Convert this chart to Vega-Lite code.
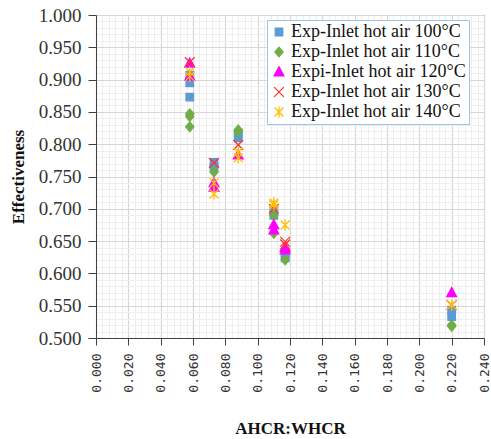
{
  "$schema": "https://vega.github.io/schema/vega-lite/v6.json",
  "width": 388,
  "height": 323,
  "autosize": {"type": "none"},
  "padding": {"left": 96, "top": 15, "right": 7, "bottom": 101},
  "background": "white",
  "config": {
    "font": "Liberation Serif",
    "view": {"stroke": "#404040", "strokeWidth": 1},
    "axis": {"domainColor": "#404040", "tickColor": "#404040", "labelColor": "#333333", "titleColor": "#111111", "labelFont": "Liberation Serif", "titleFont": "Liberation Serif"},
    "legend": {"labelFont": "Liberation Serif"}
  },
  "data": {
    "values": [
      {"x": 0.058, "y": 0.907, "series": "Exp-Inlet hot air 100°C"},
      {"x": 0.058, "y": 0.895, "series": "Exp-Inlet hot air 100°C"},
      {"x": 0.058, "y": 0.873, "series": "Exp-Inlet hot air 100°C"},
      {"x": 0.073, "y": 0.772, "series": "Exp-Inlet hot air 100°C"},
      {"x": 0.073, "y": 0.765, "series": "Exp-Inlet hot air 100°C"},
      {"x": 0.088, "y": 0.817, "series": "Exp-Inlet hot air 100°C"},
      {"x": 0.088, "y": 0.810, "series": "Exp-Inlet hot air 100°C"},
      {"x": 0.110, "y": 0.698, "series": "Exp-Inlet hot air 100°C"},
      {"x": 0.110, "y": 0.690, "series": "Exp-Inlet hot air 100°C"},
      {"x": 0.117, "y": 0.630, "series": "Exp-Inlet hot air 100°C"},
      {"x": 0.117, "y": 0.624, "series": "Exp-Inlet hot air 100°C"},
      {"x": 0.220, "y": 0.543, "series": "Exp-Inlet hot air 100°C"},
      {"x": 0.220, "y": 0.533, "series": "Exp-Inlet hot air 100°C"},
      {"x": 0.058, "y": 0.847, "series": "Exp-Inlet hot air 110°C"},
      {"x": 0.058, "y": 0.843, "series": "Exp-Inlet hot air 110°C"},
      {"x": 0.058, "y": 0.827, "series": "Exp-Inlet hot air 110°C"},
      {"x": 0.073, "y": 0.757, "series": "Exp-Inlet hot air 110°C"},
      {"x": 0.088, "y": 0.822, "series": "Exp-Inlet hot air 110°C"},
      {"x": 0.088, "y": 0.819, "series": "Exp-Inlet hot air 110°C"},
      {"x": 0.110, "y": 0.690, "series": "Exp-Inlet hot air 110°C"},
      {"x": 0.110, "y": 0.662, "series": "Exp-Inlet hot air 110°C"},
      {"x": 0.117, "y": 0.621, "series": "Exp-Inlet hot air 110°C"},
      {"x": 0.220, "y": 0.520, "series": "Exp-Inlet hot air 110°C"},
      {"x": 0.220, "y": 0.518, "series": "Exp-Inlet hot air 110°C"},
      {"x": 0.058, "y": 0.925, "series": "Expi-Inlet hot air 120°C"},
      {"x": 0.058, "y": 0.905, "series": "Expi-Inlet hot air 120°C"},
      {"x": 0.073, "y": 0.740, "series": "Expi-Inlet hot air 120°C"},
      {"x": 0.073, "y": 0.733, "series": "Expi-Inlet hot air 120°C"},
      {"x": 0.088, "y": 0.783, "series": "Expi-Inlet hot air 120°C"},
      {"x": 0.110, "y": 0.675, "series": "Expi-Inlet hot air 120°C"},
      {"x": 0.110, "y": 0.667, "series": "Expi-Inlet hot air 120°C"},
      {"x": 0.117, "y": 0.640, "series": "Expi-Inlet hot air 120°C"},
      {"x": 0.117, "y": 0.636, "series": "Expi-Inlet hot air 120°C"},
      {"x": 0.220, "y": 0.570, "series": "Expi-Inlet hot air 120°C"},
      {"x": 0.058, "y": 0.927, "series": "Exp-Inlet hot air 130°C"},
      {"x": 0.073, "y": 0.771, "series": "Exp-Inlet hot air 130°C"},
      {"x": 0.088, "y": 0.799, "series": "Exp-Inlet hot air 130°C"},
      {"x": 0.110, "y": 0.700, "series": "Exp-Inlet hot air 130°C"},
      {"x": 0.117, "y": 0.649, "series": "Exp-Inlet hot air 130°C"},
      {"x": 0.117, "y": 0.645, "series": "Exp-Inlet hot air 130°C"},
      {"x": 0.220, "y": 0.551, "series": "Exp-Inlet hot air 130°C"},
      {"x": 0.058, "y": 0.912, "series": "Exp-Inlet hot air 140°C"},
      {"x": 0.058, "y": 0.905, "series": "Exp-Inlet hot air 140°C"},
      {"x": 0.073, "y": 0.740, "series": "Exp-Inlet hot air 140°C"},
      {"x": 0.073, "y": 0.723, "series": "Exp-Inlet hot air 140°C"},
      {"x": 0.088, "y": 0.788, "series": "Exp-Inlet hot air 140°C"},
      {"x": 0.088, "y": 0.779, "series": "Exp-Inlet hot air 140°C"},
      {"x": 0.110, "y": 0.709, "series": "Exp-Inlet hot air 140°C"},
      {"x": 0.110, "y": 0.706, "series": "Exp-Inlet hot air 140°C"},
      {"x": 0.117, "y": 0.675, "series": "Exp-Inlet hot air 140°C"},
      {"x": 0.220, "y": 0.551, "series": "Exp-Inlet hot air 140°C"}
    ]
  },
  "mark": {"type": "point", "filled": true, "size": 56, "strokeWidth": 1.3, "opacity": 1},
  "encoding": {
    "x": {
      "field": "x", "type": "quantitative",
      "scale": {"domain": [0, 0.24], "nice": false, "zero": false},
      "axis": {
        "title": "AHCR:WHCR",
        "titleFont": "Liberation Serif", "titleFontSize": 17, "titleFontWeight": "bold", "titlePadding": 28,
        "values": [0,0.004,0.008,0.012,0.016,0.02,0.024,0.028,0.032,0.036,0.04,0.044,0.048,0.052,0.056,0.06,0.064,0.068,0.072,0.076,0.08,0.084,0.088,0.092,0.096,0.1,0.104,0.108,0.112,0.116,0.12,0.124,0.128,0.132,0.136,0.14,0.144,0.148,0.152,0.156,0.16,0.164,0.168,0.172,0.176,0.18,0.184,0.188,0.192,0.196,0.2,0.204,0.208,0.212,0.216,0.22,0.224,0.228,0.232,0.236,0.24],
        "labelExpr": "round(datum.value*1000) % 20 == 0 ? format(datum.value, '.3f') : ''",
        "labelAngle": 270, "labelFont": "DejaVu Sans Mono", "labelFontSize": 13, "labelPadding": 8,
        "labelOverlap": false,
        "tickSize": 7,
        "tickOpacity": {"condition": {"test": "round(datum.value*1000) % 20 == 0", "value": 1}, "value": 0},
        "grid": true,
        "gridColor": {"condition": {"test": "round(datum.value*1000) % 20 == 0", "value": "#d6d6d6"}, "value": "#eeeeee"},
        "gridWidth": {"condition": {"test": "round(datum.value*1000) % 20 == 0", "value": 1.2}, "value": 1}
      }
    },
    "y": {
      "field": "y", "type": "quantitative",
      "scale": {"domain": [0.5, 1.0], "nice": false, "zero": false},
      "axis": {
        "title": "Effectiveness",
        "titleFont": "Liberation Serif", "titleFontSize": 17, "titleFontWeight": "bold", "titlePadding": 11,
        "values": [0.5,0.51,0.52,0.53,0.54,0.55,0.56,0.57,0.58,0.59,0.6,0.61,0.62,0.63,0.64,0.65,0.66,0.67,0.68,0.69,0.7,0.71,0.72,0.73,0.74,0.75,0.76,0.77,0.78,0.79,0.8,0.81,0.82,0.83,0.84,0.85,0.86,0.87,0.88,0.89,0.9,0.91,0.92,0.93,0.94,0.95,0.96,0.97,0.98,0.99,1.0],
        "labelExpr": "round(datum.value*100) % 5 == 0 ? format(datum.value, '.3f') : ''",
        "labelFont": "Liberation Serif", "labelFontSize": 19, "labelPadding": 7,
        "labelOverlap": false,
        "tickSize": 8,
        "tickOpacity": {"condition": {"test": "round(datum.value*100) % 5 == 0", "value": 1}, "value": 0},
        "grid": true,
        "gridColor": {"condition": {"test": "round(datum.value*100) % 5 == 0", "value": "#d6d6d6"}, "value": "#eeeeee"},
        "gridWidth": {"condition": {"test": "round(datum.value*100) % 5 == 0", "value": 1.2}, "value": 1}
      }
    },
    "color": {
      "field": "series", "type": "nominal",
      "sort": ["Exp-Inlet hot air 100°C", "Exp-Inlet hot air 110°C", "Expi-Inlet hot air 120°C", "Exp-Inlet hot air 130°C", "Exp-Inlet hot air 140°C"],
      "scale": {
        "domain": ["Exp-Inlet hot air 100°C", "Exp-Inlet hot air 110°C", "Expi-Inlet hot air 120°C", "Exp-Inlet hot air 130°C", "Exp-Inlet hot air 140°C"],
        "range": ["#5B9BD5", "#70AD47", "#FF00FF", "#FF3030", "#FFC000"]
      },
      "legend": {
        "title": null, "orient": "none", "legendX": 171, "legendY": 5,
        "labelFont": "Liberation Serif", "labelFontSize": 18, "labelColor": "#111111", "labelLimit": 400,
        "labelOffset": 3,
        "symbolSize": 56, "symbolStrokeWidth": 1.3,
        "rowPadding": 2, "padding": 3,
        "strokeColor": "#9DC3E6", "fillColor": "white"
      }
    },
    "stroke": {
      "field": "series", "type": "nominal",
      "scale": {
        "domain": ["Exp-Inlet hot air 100°C", "Exp-Inlet hot air 110°C", "Expi-Inlet hot air 120°C", "Exp-Inlet hot air 130°C", "Exp-Inlet hot air 140°C"],
        "range": ["#5B9BD5", "#70AD47", "#FF00FF", "#FF3030", "#FFC000"]
      }
    },
    "shape": {
      "field": "series", "type": "nominal",
      "scale": {
        "domain": ["Exp-Inlet hot air 100°C", "Exp-Inlet hot air 110°C", "Expi-Inlet hot air 120°C", "Exp-Inlet hot air 130°C", "Exp-Inlet hot air 140°C"],
        "range": ["square", "M0,-1.3L1.1,0L0,1.3L-1.1,0Z", "M0,-1.4L1.3,1L-1.3,1Z", "M-1.3,-1.3L1.3,1.3M-1.3,1.3L1.3,-1.3", "M-1.2,-1.2L1.2,1.2M-1.2,1.2L1.2,-1.2M0,-1.5L0,1.5"]
      }
    }
  }
}
